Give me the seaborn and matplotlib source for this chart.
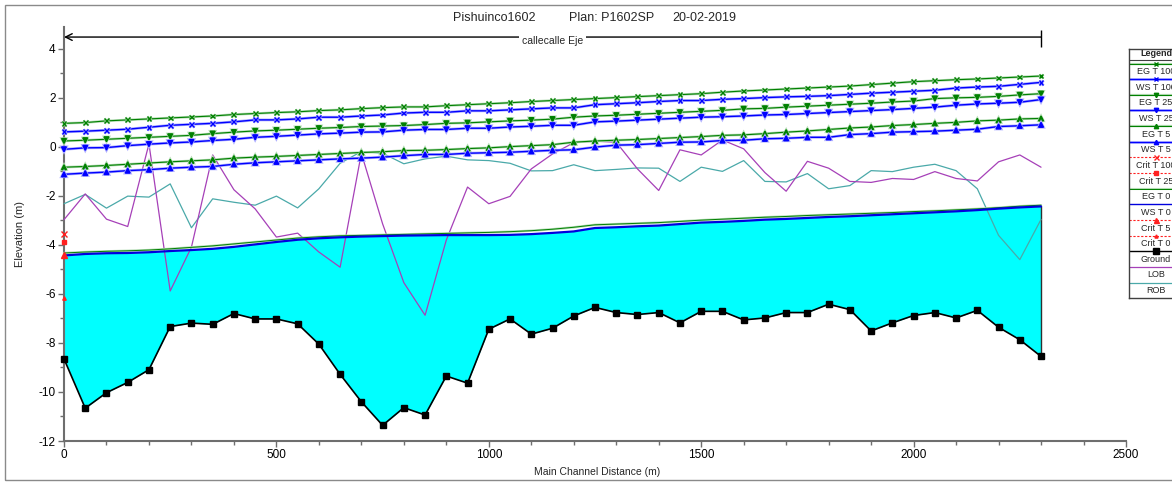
import numpy as np
import pandas as pd
import matplotlib
matplotlib.use("Agg")
import matplotlib.pyplot as plt
import matplotlib.patches as mpatches
import matplotlib.patheffects as pe
from matplotlib.ticker import MultipleLocator
import seaborn as sns

# ---------------- data ----------------
stations = [0, 50, 100, 150, 200, 250, 300, 350, 400, 450, 500, 550, 600, 650, 700, 750,
            800, 850, 900, 950, 1000, 1050, 1100, 1150, 1200, 1250, 1300, 1350, 1400, 1450,
            1500, 1550, 1600, 1650, 1700, 1750, 1800, 1850, 1900, 1950, 2000, 2050, 2100,
            2150, 2200, 2250, 2300]

eg_t100 = [0.96, 0.99, 1.06, 1.10, 1.14, 1.18, 1.22, 1.26, 1.32, 1.36, 1.40, 1.43, 1.48, 1.51, 1.56, 1.60,
           1.63, 1.63, 1.68, 1.72, 1.76, 1.80, 1.85, 1.89, 1.93, 1.97, 2.01, 2.05, 2.09, 2.13, 2.17, 2.23,
           2.28, 2.32, 2.36, 2.40, 2.44, 2.48, 2.54, 2.60, 2.66, 2.70, 2.74, 2.77, 2.81, 2.85, 2.89]
ws_t100 = [0.61, 0.64, 0.68, 0.72, 0.80, 0.88, 0.92, 0.96, 1.02, 1.10, 1.10, 1.14, 1.21, 1.21, 1.26, 1.30,
           1.38, 1.41, 1.41, 1.47, 1.47, 1.51, 1.55, 1.59, 1.59, 1.72, 1.76, 1.80, 1.85, 1.89, 1.89, 1.94,
           1.97, 2.01, 2.04, 2.06, 2.09, 2.14, 2.19, 2.23, 2.27, 2.31, 2.40, 2.44, 2.47, 2.55, 2.63]
eg_t25 = [0.24, 0.27, 0.31, 0.35, 0.39, 0.43, 0.47, 0.54, 0.60, 0.65, 0.68, 0.72, 0.76, 0.79, 0.83, 0.85,
          0.87, 0.91, 0.96, 0.98, 1.02, 1.06, 1.09, 1.13, 1.21, 1.26, 1.29, 1.33, 1.37, 1.41, 1.45, 1.49,
          1.55, 1.57, 1.62, 1.66, 1.70, 1.74, 1.78, 1.83, 1.87, 1.97, 2.00, 2.02, 2.06, 2.12, 2.17]
ws_t25 = [-0.10, -0.04, -0.03, 0.05, 0.11, 0.16, 0.20, 0.26, 0.31, 0.39, 0.43, 0.48, 0.53, 0.56, 0.60, 0.61,
          0.68, 0.71, 0.71, 0.76, 0.76, 0.81, 0.84, 0.88, 0.88, 1.02, 1.05, 1.09, 1.13, 1.17, 1.21, 1.23,
          1.26, 1.30, 1.32, 1.36, 1.40, 1.44, 1.48, 1.52, 1.57, 1.62, 1.70, 1.75, 1.78, 1.82, 1.93]
eg_t5 = [-0.83, -0.80, -0.76, -0.71, -0.66, -0.61, -0.57, -0.53, -0.46, -0.42, -0.39, -0.35, -0.31, -0.27, -0.23, -0.20,
         -0.15, -0.14, -0.11, -0.07, -0.04, 0.01, 0.05, 0.09, 0.19, 0.24, 0.27, 0.30, 0.34, 0.38, 0.42, 0.47,
         0.49, 0.54, 0.60, 0.65, 0.71, 0.77, 0.81, 0.87, 0.91, 0.96, 1.00, 1.06, 1.09, 1.14, 1.16]
ws_t5 = [-1.12, -1.07, -1.03, -0.97, -0.93, -0.87, -0.83, -0.80, -0.71, -0.65, -0.61, -0.57, -0.53, -0.49, -0.46, -0.42,
         -0.36, -0.31, -0.31, -0.26, -0.24, -0.22, -0.18, -0.14, -0.12, -0.01, 0.07, 0.09, 0.14, 0.19, 0.20, 0.26,
         0.27, 0.33, 0.35, 0.39, 0.39, 0.50, 0.54, 0.60, 0.62, 0.64, 0.68, 0.72, 0.83, 0.86, 0.90]
eg_t0 = [-4.33, -4.29, -4.26, -4.24, -4.21, -4.16, -4.10, -4.04, -3.96, -3.88, -3.80, -3.72, -3.67, -3.63, -3.61, -3.59,
         -3.57, -3.55, -3.53, -3.51, -3.49, -3.46, -3.42, -3.36, -3.28, -3.18, -3.15, -3.12, -3.09, -3.04, -2.99, -2.95,
         -2.91, -2.87, -2.84, -2.80, -2.77, -2.74, -2.71, -2.68, -2.64, -2.61, -2.57, -2.53, -2.48, -2.42, -2.38]
ws_t0 = [-4.43, -4.37, -4.34, -4.33, -4.30, -4.25, -4.21, -4.16, -4.08, -3.98, -3.88, -3.79, -3.73, -3.69, -3.66, -3.64,
         -3.62, -3.61, -3.60, -3.60, -3.60, -3.59, -3.56, -3.51, -3.45, -3.31, -3.28, -3.24, -3.21, -3.15, -3.09, -3.06,
         -3.02, -2.97, -2.94, -2.90, -2.86, -2.83, -2.79, -2.75, -2.71, -2.67, -2.63, -2.58, -2.52, -2.47, -2.43]
ground = [-8.65, -10.66, -10.03, -9.61, -9.09, -7.33, -7.19, -7.24, -6.80, -7.02, -7.02, -7.22, -8.05, -9.28, -10.40, -11.36,
          -10.64, -10.94, -9.35, -9.64, -7.44, -7.02, -7.64, -7.40, -6.90, -6.55, -6.76, -6.84, -6.76, -7.18, -6.71, -6.71,
          -7.06, -6.98, -6.76, -6.76, -6.42, -6.64, -7.51, -7.18, -6.88, -6.76, -6.98, -6.67, -7.36, -7.87, -8.55]
lob = [-2.97, -1.92, -2.95, -3.25, 0.12, -5.88, -4.09, -0.33, -1.75, -2.53, -3.68, -3.52, -4.29, -4.91, -0.26, -3.14,
       -5.54, -6.87, -3.80, -1.64, -2.32, -2.02, -0.90, -0.29, 0.17, 0.23, 0.19, -0.90, -1.78, -0.12, -0.33, 0.28,
       -0.08, -1.05, -1.81, -0.59, -0.87, -1.41, -1.45, -1.29, -1.33, -1.01, -1.29, -1.39, -0.61, -0.33, -0.83]
rob = [-2.32, -1.94, -2.50, -2.01, -2.05, -1.51, -3.30, -2.12, -2.26, -2.38, -2.01, -2.49, -1.71, -0.67, -0.19, -0.26,
       -0.69, -0.49, -0.38, -0.53, -0.56, -0.67, -0.98, -0.97, -0.73, -0.97, -0.92, -0.86, -0.87, -1.41, -0.83, -1.00,
       -0.56, -1.41, -1.43, -1.09, -1.71, -1.58, -0.97, -1.01, -0.83, -0.71, -0.97, -1.71, -3.61, -4.60, -2.96]

# critical depth is reported only at the first station
crit_station = [0]
crit_t100 = [-3.54]
crit_t25 = [-3.90]
crit_t5 = [-4.43]
crit_t0 = [-6.17]

title_parts = ["Pishuinco1602", "Plan: P1602SP", "20-02-2019"]
river_label = "callecalle Eje"
xlabel = "Main Channel Distance (m)"
ylabel = "Elevation (m)"
legend_title = "Legend"

# ---------------- styles ----------------
GREEN = "#008000"
BLUE = "#0000ff"
RED = "#ff2020"
PURPLE = "#a640b8"
TEAL = "#4aa9a9"
GHALO = "#b4dcb4"
BHALO = "#b0b0ff"

styles = {
    "EG T 100": dict(color=GREEN, ls="-", lw=0.8, marker="x", ms=3.5, halo=GHALO),
    "WS T 100": dict(color=BLUE, ls="-", lw=1.0, marker="x", ms=3.5, halo=BHALO),
    "EG T 25": dict(color=GREEN, ls="-", lw=0.8, marker="v", ms=3.5, halo=GHALO),
    "WS T 25": dict(color=BLUE, ls="-", lw=1.0, marker="v", ms=3.5, halo=BHALO),
    "EG T 5": dict(color=GREEN, ls="-", lw=0.8, marker="^", ms=3.5, halo=GHALO),
    "WS T 5": dict(color=BLUE, ls="-", lw=1.0, marker="^", ms=3.5, halo=BHALO),
    "Crit T 100": dict(color=RED, ls=(0, (2, 1.5)), lw=0.8, marker="x", ms=4, halo=None),
    "Crit T 25": dict(color=RED, ls=(0, (2, 1.5)), lw=0.8, marker="s", ms=3, halo=None),
    "EG T 0": dict(color=GREEN, ls="-", lw=0.7, marker=None, ms=0, halo=GHALO),
    "WS T 0": dict(color="#0000dd", ls="-", lw=1.6, marker=None, ms=0, halo=None),
    "Crit T 5": dict(color=RED, ls=(0, (2, 1.5)), lw=0.8, marker="^", ms=4, halo=None),
    "Crit T 0": dict(color=RED, ls=(0, (2, 1.5)), lw=0.8, marker="^", ms=2.5, halo=None),
    "Ground": dict(color="black", ls="-", lw=1.2, marker="s", ms=4.3, halo=None),
    "LOB": dict(color=PURPLE, ls="-", lw=0.9, marker=None, ms=0, halo=None),
    "ROB": dict(color=TEAL, ls="-", lw=0.9, marker=None, ms=0, halo=None),
}

series = [
    ("ROB", stations, rob), ("LOB", stations, lob),
    ("EG T 0", stations, eg_t0), ("WS T 0", stations, ws_t0),
    ("EG T 5", stations, eg_t5), ("WS T 5", stations, ws_t5),
    ("EG T 25", stations, eg_t25), ("WS T 25", stations, ws_t25),
    ("EG T 100", stations, eg_t100), ("WS T 100", stations, ws_t100),
    ("Ground", stations, ground),
    ("Crit T 100", crit_station, crit_t100), ("Crit T 25", crit_station, crit_t25),
    ("Crit T 5", crit_station, crit_t5), ("Crit T 0", crit_station, crit_t0),
]

# ---------------- figure ----------------
sns.set_theme(style="white")
plt.rcParams["font.family"] = ["Liberation Sans", "DejaVu Sans"]
plt.rcParams["axes.unicode_minus"] = False

W, H = 1172, 483
fig = plt.figure(figsize=(W / 100, H / 100), dpi=100)
fig.patch.set_facecolor("white")
ax = fig.add_axes([64 / W, 42 / H, 1062 / W, 414 / H])
ax.set_facecolor("white")

# water fill between ground and WS T 0
ax.fill_between(stations, ground, ws_t0, color="#00ffff", lw=0, zorder=1)
ax.vlines(stations[-1], ground[-1], ws_t0[-1], color="#303030", lw=1.0, zorder=2)

for name, xs, ys in series:
    st = styles[name]
    kw = dict(color=st["color"], linestyle=st["ls"], linewidth=st["lw"])
    if st["marker"]:
        kw.update(marker=st["marker"], markersize=st["ms"], markeredgecolor=st["color"],
                  markerfacecolor=st["color"], markeredgewidth=1.0)
    if st["halo"]:
        kw["path_effects"] = [pe.Stroke(linewidth=st["lw"] + 1.0, foreground=st["halo"]), pe.Normal()]
    sns.lineplot(x=xs, y=ys, ax=ax, legend=False, clip_on=False, zorder=4, **kw)

ax.set_xlim(0, 2500)
ax.set_ylim(-12, 4.89)
ax.xaxis.set_major_locator(MultipleLocator(500))
ax.xaxis.set_minor_locator(MultipleLocator(100))
ax.yaxis.set_major_locator(MultipleLocator(2))
ax.yaxis.set_minor_locator(MultipleLocator(1))
for s in ["top", "right"]:
    ax.spines[s].set_visible(False)
for s in ["left", "bottom"]:
    ax.spines[s].set_color("#6e6e6e")
    ax.spines[s].set_linewidth(1.5)
ax.tick_params(which="major", direction="out", length=4, width=1, color="#6e6e6e",
               labelcolor="black", labelsize=8.5, pad=2, left=True, bottom=True)
ax.tick_params(which="minor", direction="out", length=3, width=1, color="#6e6e6e",
               left=True, bottom=True)
ax.grid(False)

ax.set_xlabel(xlabel, fontsize=7.5)
ax.set_ylabel(ylabel, fontsize=8)
ax.xaxis.set_label_coords((597 - 64) / 1062, -0.063)
ax.yaxis.set_label_coords(-0.037, 0.5)

# river reach arrow
y_reach = 4.48
ax.annotate("", xy=(stations[0], y_reach), xytext=(stations[-1], y_reach),
            arrowprops=dict(arrowstyle="->", lw=1.0, color="black", shrinkA=0, shrinkB=0),
            annotation_clip=False, zorder=5)
ax.vlines(stations[-1], 4.07, 4.78, color="black", lw=1.0, zorder=5)
ax.text((stations[0] + stations[-1]) / 2, 4.30, river_label, ha="center", va="center",
        fontsize=7.5, zorder=6,
        bbox=dict(boxstyle="square,pad=0.25", fc="white", ec="none"))

# title
for txt, px in zip(title_parts, [453, 569, 672]):
    fig.text(px / W, 1 - 18 / H, txt, ha="left", va="center", fontsize=9)

# outer frame
fig.patches.append(mpatches.Rectangle((5 / W, 3 / H), 1.2, 1 - 8 / H, transform=fig.transFigure,
                                      fill=False, edgecolor="#8a8a8a", lw=1.0))

# ---------------- legend box ----------------
lx0, ly_top, ly_bot, lw_px = 1129, 49, 298, 54
lax = fig.add_axes([lx0 / W, (H - ly_bot) / H, lw_px / W, (ly_bot - ly_top) / H])
lax.set_xlim(0, 1)
lax.set_ylim(ly_bot, ly_top)
lax.set_xticks([])
lax.set_yticks([])
lax.set_facecolor("white")
for s in lax.spines.values():
    s.set_color("#404040")
    s.set_linewidth(1.0)
lax.text(0.5, 53.5, legend_title, ha="center", va="center", fontsize=6.5, fontweight="bold")
lax.plot([0, 1], [59.5, 59.5], color="#404040", lw=0.8)
legend_order = ["EG T 100", "WS T 100", "EG T 25", "WS T 25", "EG T 5", "WS T 5",
                "Crit T 100", "Crit T 25", "EG T 0", "WS T 0", "Crit T 5", "Crit T 0",
                "Ground", "LOB", "ROB"]
for i, name in enumerate(legend_order):
    st = styles[name]
    yl = 63.5 + 15.65 * i
    yt = 71.5 + 15.65 * i
    lw_leg = min(st["lw"], 1.0)
    lkw = {}
    if st["halo"]:
        lkw["path_effects"] = [pe.Stroke(linewidth=lw_leg + 0.8, foreground=st["halo"]), pe.Normal()]
    lax.plot([0, 1], [yl, yl], color=st["color"], linestyle=st["ls"], linewidth=lw_leg, **lkw)
    if st["marker"]:
        lax.plot([0.5], [yl], marker=st["marker"], markersize=st["ms"] * 0.9,
                 color=st["color"], markeredgecolor=st["color"], markeredgewidth=1.0)
    lax.text(0.5, yt, name, ha="center", va="center", fontsize=6.5)

fig.savefig("out.png", dpi=100, facecolor="white")
